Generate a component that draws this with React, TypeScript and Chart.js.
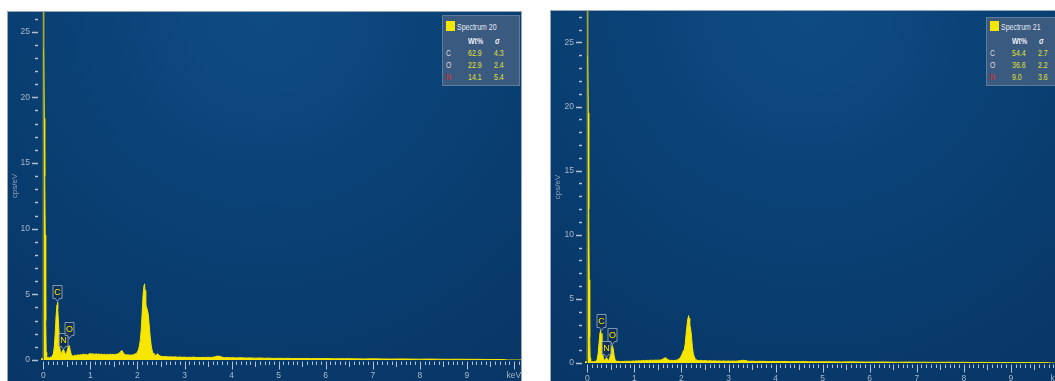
import React, { useEffect, useRef } from 'react';
import { Chart, registerables } from 'chart.js';

Chart.register(...registerables);

// ---------------- DATA ----------------
const energy20 = [
  -0.05, -0.01, 0.0, 0.01, 0.02, 0.03, 0.04, 0.05, 0.06, 0.07, 0.09, 0.11, 0.13, 0.15, 0.17, 0.19,
  0.21, 0.23, 0.25, 0.27, 0.29, 0.3, 0.31, 0.33, 0.35, 0.37, 0.39, 0.41, 0.43, 0.45, 0.47, 0.49,
  0.51, 0.53, 0.55, 0.57, 0.59, 0.61, 0.64, 0.67, 0.7, 0.73, 0.76, 0.79, 0.82, 0.85, 0.88, 0.91,
  0.94, 0.97, 1.0, 1.03, 1.06, 1.09, 1.12, 1.15, 1.18, 1.21, 1.24, 1.27, 1.3, 1.33, 1.36, 1.39,
  1.42, 1.45, 1.48, 1.51, 1.54, 1.57, 1.6, 1.63, 1.65, 1.67, 1.69, 1.71, 1.74, 1.77, 1.8, 1.83,
  1.86, 1.89, 1.92, 1.95, 1.98, 2.0, 2.02, 2.04, 2.06, 2.08, 2.1, 2.12, 2.14, 2.15, 2.16, 2.17,
  2.18, 2.19, 2.21, 2.23, 2.25, 2.27, 2.29, 2.31, 2.33, 2.35, 2.38, 2.41, 2.43, 2.45, 2.48, 2.51,
  2.55, 2.6, 2.65, 2.7, 2.75, 2.8, 2.85, 2.9, 2.95, 3.0, 3.05, 3.1, 3.15, 3.2, 3.25, 3.3, 3.35,
  3.4, 3.45, 3.5, 3.55, 3.6, 3.65, 3.7, 3.75, 3.8, 3.85, 3.9, 3.95, 4.0, 4.1, 4.2, 4.3, 4.4, 4.5,
  4.6, 4.7, 4.8, 4.9, 5.0, 5.1, 5.2, 5.3, 5.4, 5.5, 5.6, 5.7, 5.8, 5.9, 6.0, 6.2, 6.4, 6.6, 6.8,
  7.0, 7.2, 7.4, 7.6, 7.8, 8.0, 8.2, 8.4, 8.6, 8.8, 9.0, 9.2, 9.4, 9.6, 9.8, 9.85, 10.15,
];
const counts20 = [
  0.1, 0.1, 60, 23.7, 18.4, 14, 9.5, 3.0, 0.6, 0.25, 0.15, 0.2, 0.15, 0.22, 0.2, 0.3,
  0.45, 0.9, 1.9, 3.3, 4.2, 4.4, 3.9, 2.3, 0.9, 0.45, 0.55, 0.75, 0.8, 0.6, 0.45, 0.5,
  0.75, 1.0, 1.1, 0.75, 0.45, 0.32, 0.3, 0.38, 0.33, 0.4, 0.36, 0.42, 0.38, 0.45, 0.4, 0.44,
  0.38, 0.46, 0.5, 0.44, 0.48, 0.42, 0.47, 0.43, 0.46, 0.41, 0.45, 0.4, 0.44, 0.39, 0.43, 0.4,
  0.45, 0.41, 0.44, 0.4, 0.43, 0.45, 0.5, 0.58, 0.68, 0.72, 0.6, 0.48, 0.42, 0.38, 0.4, 0.36,
  0.39, 0.37, 0.42, 0.45, 0.52, 0.6, 0.78, 1.05, 1.5, 2.3, 3.6, 5.0, 5.7, 5.8, 5.3, 4.7,
  4.3, 4.05, 3.8, 3.45, 2.6, 1.8, 1.15, 0.75, 0.52, 0.4, 0.36, 0.42, 0.47, 0.38, 0.3, 0.28,
  0.25, 0.27, 0.23, 0.25, 0.22, 0.24, 0.21, 0.23, 0.2, 0.22, 0.19, 0.21, 0.2, 0.22, 0.19, 0.2, 0.18,
  0.2, 0.19, 0.21, 0.19, 0.21, 0.24, 0.3, 0.28, 0.21, 0.18, 0.19, 0.17, 0.18, 0.16, 0.17, 0.15, 0.16, 0.14,
  0.15, 0.13, 0.14, 0.12, 0.13, 0.12, 0.13, 0.11, 0.12, 0.11, 0.12, 0.1, 0.11, 0.1, 0.11, 0.09, 0.1, 0.09, 0.08,
  0.09, 0.08, 0.07, 0.08, 0.07, 0.06, 0.07, 0.06, 0.05, 0.06, 0.05, 0.05, 0.04, 0.04, 0.03, 0, 0,
];

const energy21 = [
  -0.05, -0.01, 0.0, 0.01, 0.02, 0.03, 0.04, 0.05, 0.06, 0.07, 0.09, 0.11, 0.13, 0.15, 0.17, 0.19,
  0.21, 0.23, 0.25, 0.27, 0.28, 0.29, 0.31, 0.33, 0.35, 0.37, 0.39, 0.41, 0.43, 0.45, 0.47, 0.49,
  0.51, 0.53, 0.55, 0.57, 0.59, 0.61, 0.64, 0.67, 0.7, 0.73, 0.76, 0.79, 0.82, 0.85, 0.88, 0.91,
  0.94, 0.97, 1.0, 1.03, 1.06, 1.09, 1.12, 1.15, 1.18, 1.21, 1.24, 1.27, 1.3, 1.33, 1.36, 1.39,
  1.42, 1.45, 1.48, 1.51, 1.54, 1.57, 1.6, 1.63, 1.65, 1.67, 1.69, 1.71, 1.74, 1.77, 1.8, 1.83,
  1.86, 1.89, 1.92, 1.95, 1.98, 2.0, 2.02, 2.04, 2.06, 2.08, 2.1, 2.12, 2.14, 2.15, 2.16, 2.17,
  2.18, 2.19, 2.21, 2.23, 2.25, 2.27, 2.29, 2.31, 2.33, 2.35, 2.38, 2.41, 2.45, 2.5, 2.55, 2.6,
  2.65, 2.7, 2.75, 2.8, 2.85, 2.9, 2.95, 3.0, 3.05, 3.1, 3.15, 3.2, 3.25, 3.3, 3.35, 3.4, 3.45,
  3.5, 3.6, 3.7, 3.8, 3.9, 4.0, 4.1, 4.2, 4.3, 4.4, 4.5, 4.6, 4.7, 4.8, 4.9, 5.0, 5.2, 5.4, 5.6,
  5.8, 6.0, 6.2, 6.4, 6.6, 6.8, 7.0, 7.2, 7.4, 7.6, 7.8, 8.0, 8.2, 8.4, 8.6, 8.8, 9.0, 9.2, 9.4,
  9.6, 9.8, 9.85, 10.15,
];
const counts21 = [
  0.1, 0.1, 60, 24, 19.5, 12, 6.5, 2.0, 0.4, 0.15, 0.1, 0.12, 0.1, 0.13, 0.12, 0.18,
  0.3, 0.75, 1.6, 2.4, 2.54, 2.3, 1.4, 0.6, 0.25, 0.2, 0.35, 0.4, 0.3, 0.2, 0.3, 0.6,
  1.1, 1.37, 1.1, 0.55, 0.25, 0.15, 0.12, 0.14, 0.1, 0.13, 0.11, 0.14, 0.12, 0.15, 0.12, 0.14,
  0.13, 0.16, 0.14, 0.17, 0.15, 0.18, 0.16, 0.19, 0.17, 0.2, 0.18, 0.21, 0.19, 0.22, 0.2, 0.22,
  0.2, 0.23, 0.21, 0.23, 0.22, 0.25, 0.3, 0.36, 0.4, 0.39, 0.33, 0.26, 0.22, 0.2, 0.21, 0.19,
  0.2, 0.22, 0.26, 0.32, 0.45, 0.58, 0.75, 0.95, 1.05, 1.5, 2.3, 3.0, 3.55, 3.7, 3.5, 3.1,
  2.9, 2.8, 2.2, 1.3, 0.75, 0.5, 0.33, 0.26, 0.22, 0.2, 0.18, 0.21, 0.17, 0.19, 0.16, 0.18,
  0.15, 0.17, 0.15, 0.16, 0.14, 0.16, 0.14, 0.15, 0.14, 0.15, 0.14, 0.16, 0.18, 0.21, 0.2, 0.15, 0.13,
  0.14, 0.12, 0.13, 0.12, 0.11, 0.12, 0.11, 0.12, 0.1, 0.11, 0.1, 0.11, 0.09, 0.1, 0.09, 0.1, 0.09, 0.08, 0.09,
  0.08, 0.07, 0.08, 0.07, 0.06, 0.07, 0.06, 0.06, 0.05, 0.06, 0.05, 0.05, 0.04, 0.05, 0.04, 0.04, 0.03, 0.04, 0.03,
  0.03, 0.02, 0, 0,
];

const xTickValues = [0, 1, 2, 3, 4, 5, 6, 7, 8, 9, 10];
const xTickLabels = ['0', '1', '2', '3', '4', '5', '6', '7', '8', '9', 'keV'];
const yTickValues = [0, 5, 10, 15, 20, 25];
const yTickLabels = ['0', '5', '10', '15', '20', '25'];

const elements = ['C', 'O', 'N'];
const wt20 = [62.9, 22.9, 14.1];
const sigma20 = [4.3, 2.4, 5.4];
const wt21 = [54.4, 36.6, 9.0];
const sigma21 = [2.7, 2.2, 3.6];

const peakNames = ['C', 'N', 'O'];
const peakEnergy20 = [0.3, 0.42, 0.54];
const peakLabelAt20 = [4.5, 0.8, 1.7];
const peakEnergy21 = [0.28, 0.395, 0.525];
const peakLabelAt21 = [2.55, 0.43, 1.52];

// ---------------- STYLE ----------------
const YELLOW = '#f6e600';
const SPIKE_DIM = 'rgba(190,180,30,0.55)';
const TICK = '#b3c1d2';
const FONT = "'Liberation Sans Narrow', 'Liberation Sans', Arial, sans-serif";

const PANELS = [
  {
    key: 'p20', left: 8, top: 12, width: 513, chartH: 348, yAxisW: 33, yMax: 26.5,
    energy: energy20, counts: counts20, peakE: peakEnergy20, peakV: peakLabelAt20,
  },
  {
    key: 'p21', left: 551, top: 11, width: 514, chartH: 352, yAxisW: 34, yMax: 27.45,
    energy: energy21, counts: counts21, peakE: peakEnergy21, peakV: peakLabelAt21,
  },
];
const X_AXIS_H = 30;

const bgPlugin = {
  id: 'bgGrad',
  beforeDraw(chart: any) {
    const { ctx, width, height } = chart;
    const cx = width * 0.5;
    const g = ctx.createRadialGradient(cx, 0, 0, cx, 0, 520);
    g.addColorStop(0, '#0e4b82');
    g.addColorStop(0.15, '#0d487e');
    g.addColorStop(0.3, '#0b4378');
    g.addColorStop(0.5, '#093e71');
    g.addColorStop(0.7, '#08396a');
    g.addColorStop(1, '#073563');
    ctx.save();
    ctx.fillStyle = g;
    ctx.fillRect(0, 0, width, height);
    ctx.restore();
  },
};

const tickPlugin = {
  id: 'tickMarks',
  afterDraw(chart: any) {
    const { ctx, chartArea } = chart;
    const xs = chart.scales.x;
    const ys = chart.scales.y;
    ctx.save();
    ctx.strokeStyle = TICK;
    const yTop = Math.floor(ys.max);
    for (let v = 0; v <= yTop; v++) {
      const py = Math.round(ys.getPixelForValue(v)) + 0.5;
      const major = v % 5 === 0;
      ctx.lineWidth = 1.5;
      ctx.beginPath();
      ctx.moveTo(chartArea.left - (major ? 9 : 6), py);
      ctx.lineTo(chartArea.left - 3, py);
      ctx.stroke();
    }
    ctx.lineWidth = 1;
    for (let i = 0; i <= 101; i++) {
      const v = i / 10;
      const px = Math.round(xs.getPixelForValue(v)) + 0.5;
      const len = i % 10 === 0 ? 8 : i % 5 === 0 ? 5.5 : 3.5;
      ctx.beginPath();
      ctx.moveTo(px, chartArea.bottom + 1.5);
      ctx.lineTo(px, chartArea.bottom + 1.5 + len);
      ctx.stroke();
    }
    ctx.restore();
  },
};

const peakLabelPlugin = {
  id: 'peakLabels',
  afterDatasetsDraw(chart: any, _args: any, opts: any) {
    const { ctx } = chart;
    const xs = chart.scales.x;
    const ys = chart.scales.y;
    const es: number[] = opts.energies || [];
    const vs: number[] = opts.values || [];
    ctx.save();
    es.forEach((e, i) => {
      const px = Math.round(xs.getPixelForValue(e)) + 0.5;
      const py = Math.round(ys.getPixelForValue(vs[i])) + 0.5;
      const w = 9;
      const h = 13;
      const bottom = py - 3;
      ctx.fillStyle = 'rgba(22,44,76,0.72)';
      ctx.strokeStyle = 'rgba(150,170,196,0.85)';
      ctx.lineWidth = 1;
      ctx.beginPath();
      ctx.moveTo(px - w / 2, bottom - h);
      ctx.lineTo(px + w / 2, bottom - h);
      ctx.lineTo(px + w / 2, bottom);
      ctx.lineTo(px + 2, bottom);
      ctx.lineTo(px, py);
      ctx.lineTo(px - 2, bottom);
      ctx.lineTo(px - w / 2, bottom);
      ctx.closePath();
      ctx.fill();
      ctx.stroke();
      ctx.fillStyle = YELLOW;
      ctx.font = `9px ${FONT}`;
      ctx.textAlign = 'center';
      ctx.textBaseline = 'middle';
      ctx.fillText(peakNames[i], px, bottom - h / 2 + 0.5);
    });
    ctx.restore();
  },
};

function SpectrumPanel({ cfg }: { cfg: any }) {
  const ref = useRef<HTMLCanvasElement | null>(null);
  useEffect(() => {
    if (!ref.current) return;
    const pts = cfg.energy.map((e: number, i: number) => ({ x: e, y: cfg.counts[i] }));
    const yMax = cfg.yMax;
    const dimSeg = (c: any) =>
      c.p0.parsed.y > yMax || c.p1.parsed.y > yMax ? SPIKE_DIM : undefined;
    const chart = new Chart(ref.current, {
      type: 'line',
      data: {
        datasets: [
          {
            data: pts,
            fill: 'origin',
            backgroundColor: YELLOW,
            borderColor: YELLOW,
            borderWidth: 1,
            pointRadius: 0,
            tension: 0,
            segment: { borderColor: dimSeg, backgroundColor: dimSeg },
          } as any,
        ],
      },
      options: {
        animation: false,
        responsive: false,
        maintainAspectRatio: false,
        layout: { padding: 0 },
        events: [],
        plugins: {
          legend: { display: false },
          tooltip: { enabled: false },
          peakLabels: { energies: cfg.peakE, values: cfg.peakV },
        } as any,
        scales: {
          x: {
            type: 'linear',
            min: -0.05,
            max: 10.15,
            grid: { display: false, drawTicks: false },
            border: { display: false },
            afterBuildTicks: (s: any) => {
              s.ticks = xTickValues.map((v) => ({ value: v }));
            },
            afterFit: (s: any) => {
              s.height = X_AXIS_H;
              s.paddingLeft = 0;
              s.paddingRight = 0;
            },
            ticks: {
              padding: 11,
              color: '#a9b7ca',
              font: { size: 8.5, family: FONT },
              autoSkip: false,
              maxRotation: 0,
              callback: (v: any) => {
                const i = xTickValues.indexOf(Number(v));
                return i >= 0 ? xTickLabels[i] : '';
              },
            },
          },
          y: {
            type: 'linear',
            min: 0,
            max: cfg.yMax,
            grid: { display: false, drawTicks: false },
            border: { display: false },
            afterBuildTicks: (s: any) => {
              s.ticks = yTickValues.map((v) => ({ value: v }));
            },
            afterFit: (s: any) => {
              s.width = cfg.yAxisW;
              s.paddingTop = 0;
              s.paddingBottom = 0;
            },
            title: {
              display: true,
              text: 'cps/eV',
              color: '#8ea2bb',
              font: { size: 8, family: FONT },
              padding: { top: 2, bottom: 0 },
            },
            ticks: {
              padding: 11,
              color: '#a9b7ca',
              font: { size: 8.5, family: FONT },
              callback: (v: any) => {
                const i = yTickValues.indexOf(Number(v));
                return i >= 0 ? yTickLabels[i] : '';
              },
            },
          },
        },
      },
      plugins: [bgPlugin, tickPlugin, peakLabelPlugin],
    });
    return () => chart.destroy();
  }, [cfg]);
  return (
    <canvas
      ref={ref}
      width={cfg.width}
      height={cfg.chartH + X_AXIS_H}
      style={{
        position: 'absolute',
        left: cfg.left,
        top: cfg.top,
        width: cfg.width,
        height: cfg.chartH + X_AXIS_H,
        outline: '1px solid #9aa6b6',
      }}
    />
  );
}

function Legend({ x, boxTop, boxH, title, wt, sigma }: any) {
  const dy = boxTop - 15;
  const txt: React.CSSProperties = {
    position: 'absolute',
    fontFamily: FONT,
    fontSize: 8.5,
    lineHeight: '10px',
    whiteSpace: 'nowrap',
    transform: 'scaleX(0.82)',
    transformOrigin: '0 50%',
  };
  return (
    <div
      style={{
        position: 'absolute',
        left: x,
        top: boxTop,
        width: 78,
        height: boxH,
        background: '#3a5a80',
        border: '1px solid #5f7b9c',
        boxSizing: 'border-box',
      }}
    >
      <div style={{ position: 'absolute', left: 3.5, top: 5 - dy, width: 9, height: 10, background: YELLOW }} />
      <span style={{ ...txt, left: 14.5, top: 5.5 - dy, color: '#e6ebf2' }}>{title}</span>
      <span style={{ ...txt, left: 25.5, top: 20 - dy, color: '#eef2f7', fontWeight: 'bold' }}>Wt%</span>
      <span style={{ ...txt, left: 52, top: 20 - dy, color: '#eef2f7', fontWeight: 'bold', fontStyle: 'italic' }}>σ</span>
      {elements.map((el, i) => (
        <React.Fragment key={el}>
          <span style={{ ...txt, left: 3.5, top: 32 + i * 11.8 - dy, color: el === 'N' ? '#e02424' : '#d7dee8' }}>{el}</span>
          <span style={{ ...txt, left: 25.5, top: 32 + i * 11.8 - dy, color: '#e4e030' }}>{wt[i].toFixed(1)}</span>
          <span style={{ ...txt, left: 51.5, top: 32 + i * 11.8 - dy, color: '#e4e030' }}>{sigma[i].toFixed(1)}</span>
        </React.Fragment>
      ))}
    </div>
  );
}

export default function App() {
  return (
    <div
      style={{
        position: 'fixed',
        left: 0,
        top: 0,
        width: 1055,
        height: 381,
        overflow: 'hidden',
        background: '#ffffff',
      }}
    >
      {PANELS.map((p) => (
        <SpectrumPanel key={p.key} cfg={p} />
      ))}
      <Legend x={441.5} boxTop={15} boxH={71} title="Spectrum 20" wt={wt20} sigma={sigma20} />
      <Legend x={985.5} boxTop={17} boxH={69} title="Spectrum 21" wt={wt21} sigma={sigma21} />
    </div>
  );
}
